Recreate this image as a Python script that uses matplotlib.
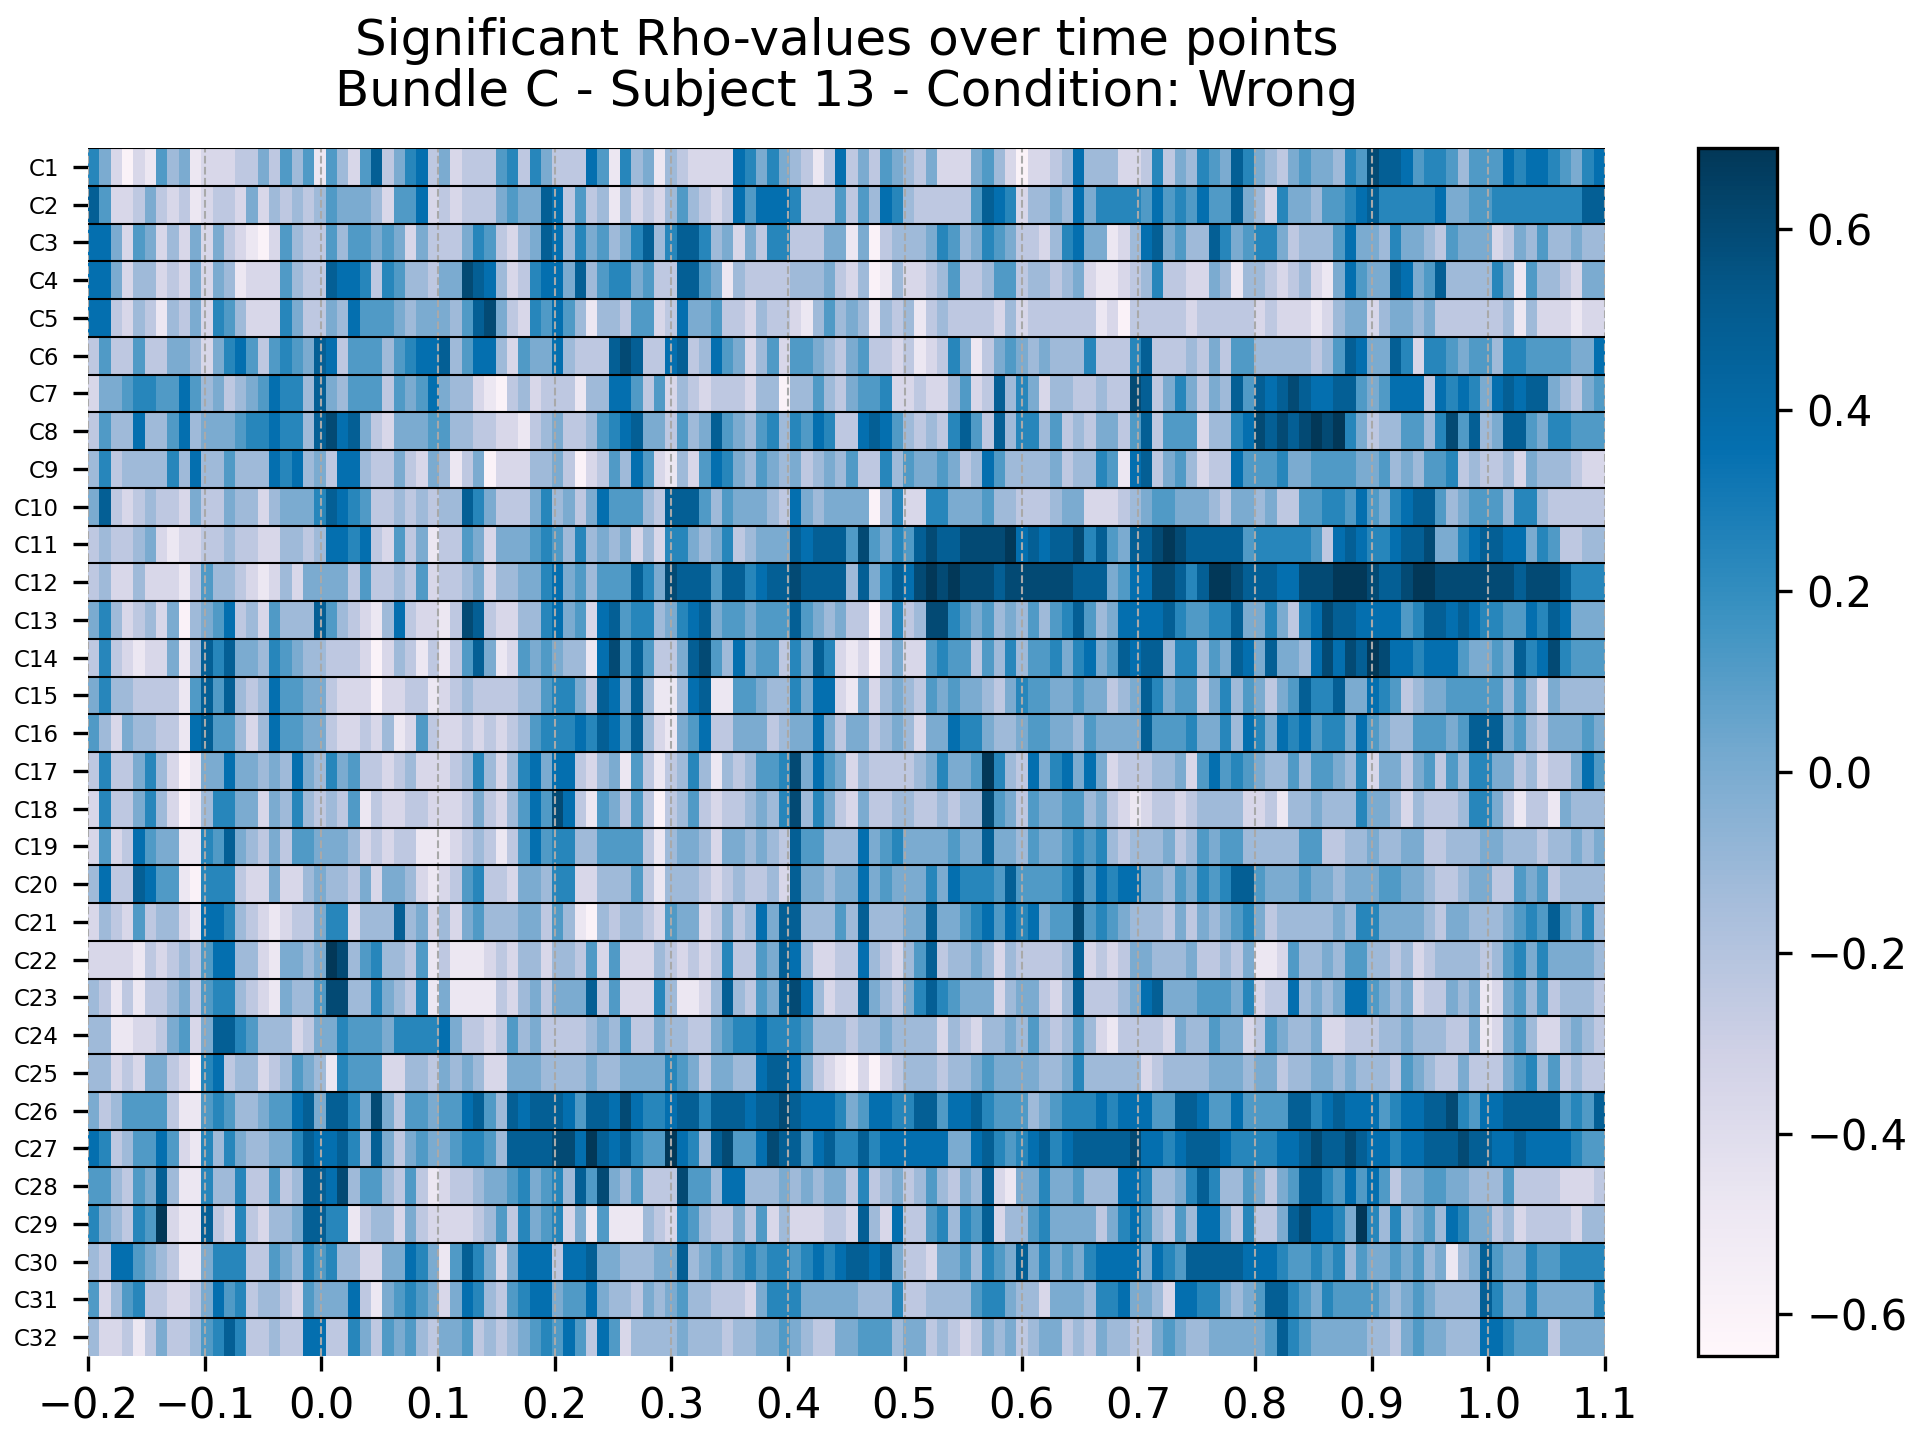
import numpy as np
import matplotlib
matplotlib.use("Agg")
import matplotlib.pyplot as plt

# colour level per cell (0 = palest ... b = darkest),
# one string per channel, one character per time bin; level L ~ rho = -0.6 + 0.12 * L
rows = [
    "7520216451222335364616426935783523" "3367375333861745143222287575431383" "5365435222564202234844422373547659" "75435655476a99867764666878876578",
    "9622353231233252434346555426682323" "3356559836341423246432386888733363" "6487433333698724454857777686768669" "54275546678977777855667777777799",
    "8852652425253210264336466565253335" "7632459847564579479974525377333551" "5034445764576533247855124895644975" "67753444685547554365552354644544",
    "885244232525412226433988737644355a" "9842378859467756339965143333444532" "4014223463346634434521123473322541" "44323421586559856944447516443255",
    "8832431435276422275335486665455546" "9a53276864144366238556332433214645" "4143413433332423333331203333323333" "32322212455245545333333414222122",
    "3633633554257863676598366646788946" "8842655843339a93389348652462665435" "6332312375135654544473337933343536" "64444434698559727765664776666558",
    "2556776686453456877495466636568544" "2103423331448863624323332440446435" "667223224623947524433433a935753549" "6989a988996568883878758989954356",
    "364484468455567787749a895325556644" "3322134533467895536459654674768733" "8986434379639477463435536936662447" "8a9a9abab753446647a6945996577666",
    "4734444748446444878453884335325413" "5022244530236486214268754654534546" "3374655653486444453447618935642338" "66675566665564546673433425444322",
    "5932343325335442455579876334343449" "7533357453586664399964655543854555" "5047227755564433345522234566555435" "54533667768657899645666477433333",
    "3433452122334332244348878326351336" "5255567647454524277545734555989996" "a65769a99aaaab89899a796599aba99999" "6777776389877899a557899885763344",
    "3422422213644321242555536334362334" "52445578564666975a9996997899a99994" "95798ababaaa9aaaaaa9995688aa979bba" "99988aaabbba99abbaaaaaaa9aaa9777",
    "574234250456834264449643214832213a" "9322447856289677457895665666965453" "303734aa76564546467964588889766779" "5575378a998888679989877668798555",
    "3732122514979554765443332024313136" "951265654418a6963359a6485663759721" "2035226766364746675785698994774659" "8595548a8a9ba88788865565978a7666",
    "5744333316969434866553222022331234" "3333446775398594114891166544758821" "5245436565543576655655345975663574" "65356977955876345566666464254444",
    "6425443318966424866553223241263223" "2323467778798694215683355534558535" "5345425587754456655465555966675574" "87587867758654466656999564355565",
    "3733574201558554548547563323422234" "7424785883245163134741434667a58652" "43333457556b7438578585233344526867" "65446466547255356364775534233586",
    "2733574201477552547434361322332223" "5324686a83165363034632334547a47532" "53344334344a6536556645321233234444" "22314454447554243334775313315444",
    "2623865511769543536655542323311123" "4313686774466663145542554543966444" "8567555565595546556767434445346566" "44444663344544553344455444344545",
    "4833986610777322522454435255421236" "7332554772244463144432343342955455" "8565557587776966667968788554657679" "96555655455566554334553365634444",
    "2432634421887432123357724449452425" "6444553641043443265523534859944464" "9444559556786878566a67654443535456" "75344444547755554355444567696574",
    "222213234368844215545ba46744361311" "1232442443626222432323733659842233" "8432469344542433334923235544453343" "51126445466443423444434675755554",
    "431313345367743215446aa44754371511" "1132453555936222741124943659a84233" "9543579765552455324933345895556665" "72338454588654523354512564634443",
    "4411223562599764442355766657777853" "3236453333454633544335677877764443" "4454444243244546434642133332544655" "23654452233344544433512564224543",
    "4423255320783442346541766622443545" "4225554444544555576535544899853210" "2023444344565555445744444234444555" "45534455454443654335333567463433",
    "5346666311676445668959975a53665668" "9649899986998a8778997999899a988875" "6887799688976664567778788866998668" "666699789888678899a7688999996769",
    "8734668621747544557988974953565567" "7649999aa8b989766b8749a668a9968977" "978888885589767897899999a887899987" "777889a99a988788999a998898888766",
    "6643659411744733634998a46643631233" "45567567496a546333a664884445454553" "7345346435492155755644488744579744" "65356997686863556655444633332223",
    "754376b211932732445997713442532222" "3463756725161114327643353624222332" "9428336747692446755553578643648853" "73359a8875b747456487553423333244",
    "4388654311577733654767442255875169" "7525888388955444559456567677678789" "9895332556476595756578888587699999" "88876676746556564514596557667777",
    "6246733223586734432655583156765258" "7436788566854435456443332577755555" "4447334444677544255547785542887754" "56997657666654565444497557555557",
    "4223135334679733433883375365643556" "3434567686386244445444344556543355" "6664553432354534553435443356544555" "55697655555443565544488766635555",
]
labels = ["C%d" % (i + 1) for i in range(32)]
xticks = [-0.2, -0.1, 0.0, 0.1, 0.2, 0.3, 0.4, 0.5, 0.6, 0.7, 0.8, 0.9, 1.0, 1.1]
cbar_ticks = [-0.6, -0.4, -0.2, 0.0, 0.2, 0.4, 0.6]
vmin, vmax = -0.646, 0.69

levels = np.array([[int(ch, 16) for ch in r] for r in rows], dtype=float)
rho = -0.6 + 0.12 * levels

fig = plt.figure(figsize=(6.4, 4.8), dpi=300)
ax = fig.add_axes([88 / 1920, 1 - 1356 / 1440, 1517 / 1920, 1208 / 1440])
cax = fig.add_axes([1698 / 1920, 1 - 1356 / 1440, 79 / 1920, 1208 / 1440])

im = ax.imshow(rho, aspect="auto", cmap="PuBu", vmin=vmin, vmax=vmax,
               extent=[-0.2, 1.1, 32, 0], interpolation="nearest")
for t in xticks:
    ax.axvline(t, color="darkgray", ls="--", lw=0.5)
for i in range(32):
    ax.axhline(i, color="black", lw=0.5)

ax.set_xlim(-0.2, 1.1)
ax.set_ylim(32, 0)
ax.set_xticks(xticks)
ax.set_xticklabels([("%.1f" % t).replace("-", "\u2212") for t in xticks])
ax.set_yticks(np.arange(32) + 0.5)
ax.set_yticklabels(labels, fontsize=5.5)
for s in ax.spines.values():
    s.set_visible(False)
ax.set_title("Significant Rho-values over time points\nBundle C - Subject 13 - Condition: Wrong",
             fontsize=12, pad=10, linespacing=1.1)

cb = fig.colorbar(im, cax=cax)
cb.set_ticks(cbar_ticks)

fig.savefig("out.png", dpi=300)
